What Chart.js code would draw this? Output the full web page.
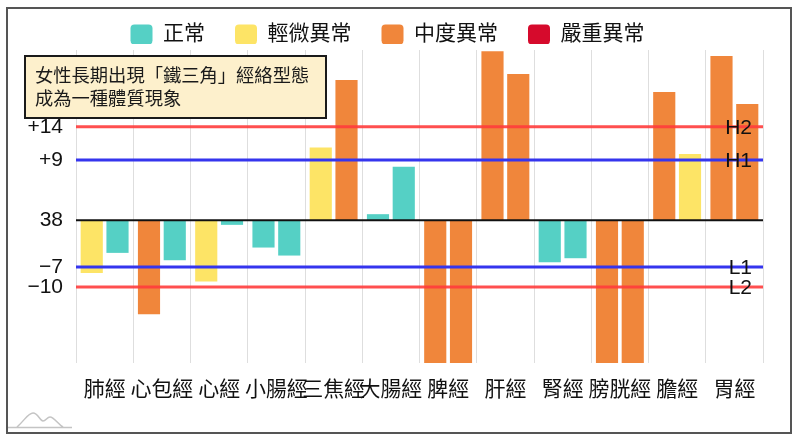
<!DOCTYPE html>
<html>
<head>
<meta charset="utf-8">
<script src="https://cdn.jsdelivr.net/npm/chart.js@4.4.1/dist/chart.umd.min.js"></script>
<style>
  html, body { margin: 0; padding: 0; background: #fff; }
  canvas { display: block; }
</style>
</head>
<body>
<canvas id="c" width="800" height="443"></canvas>
<script>
// ---- data ----
const categories = ['肺經','心包經','心經','小腸經','三焦經','大腸經','脾經','肝經','腎經','膀胱經','膽經','胃經'];
const leftValues  = [-7.9, -14.1, -9.2, -4.1, 10.9, 0.9, -23, 25.3, -6.3, -23, 19.2, 24.6];
const rightValues = [-4.9,  -6.0, -0.7, -5.3, 21.0, 8.0, -23, 21.9, -5.7, -23,  9.9, 17.4];
const leftLevels  = [1, 2, 1, 0, 1, 0, 2, 2, 0, 2, 2, 2];
const rightLevels = [0, 0, 0, 0, 2, 0, 2, 2, 0, 2, 1, 2];
const levelNames  = ['正常','輕微異常','中度異常','嚴重異常'];
const levelColors = ['#55d0c5','#fde466','#f0863b','#d60a2c'];
const yTickValues = [14, 9, 0, -7, -10];
const yTickLabels = ['+14','+9','38','\u22127','\u221210'];
const thresholdValues = [14, 9, -7, -10];
const thresholdNames  = ['H2','H1','L1','L2'];
const thresholdColors = ['rgba(255,60,60,0.9)','#3535ee','#3535ee','rgba(255,60,60,0.9)'];
const noteLines = ['女性長期出現「鐵三角」經絡型態','成為一種體質現象'];

const FONT = "'Liberation Sans', 'Noto Sans CJK TC', sans-serif";
Chart.defaults.font.family = FONT;
Chart.defaults.color = '#111';

const decor = {
  id: 'decor',
  beforeLayout(chart) {
    const lg = chart.legend;
    if (lg && !lg._patched) {
      const orig = lg.fit;
      lg.fit = function () { orig.call(this); this.height = 50; };
      lg._patched = true;
    }
  },
  afterLayout(chart) {
    const lg = chart.legend;
    if (lg) { lg.top -= 6; lg.bottom -= 6; lg.left += 6; lg.right += 6; }
  },
  beforeDraw(chart) {
    const ctx = chart.ctx;
    ctx.save();
    ctx.fillStyle = '#fff';
    ctx.fillRect(0, 0, chart.width, chart.height);
    ctx.strokeStyle = '#555';
    ctx.lineWidth = 2;
    ctx.strokeRect(7, 8, 784, 425);
    // watermark
    ctx.strokeStyle = '#c4c4c4';
    ctx.lineWidth = 1.5;
    ctx.beginPath();
    ctx.moveTo(8, 427.5); ctx.lineTo(72, 427.5);
    ctx.moveTo(17, 427);
    ctx.bezierCurveTo(25, 420, 28, 413, 33, 413);
    ctx.bezierCurveTo(38, 413, 40, 421, 43, 421);
    ctx.bezierCurveTo(46, 421, 47, 417, 50, 417);
    ctx.bezierCurveTo(54, 417, 58, 424, 63, 427);
    ctx.stroke();
    ctx.restore();
  },
  afterDatasetsDraw(chart) {
    const ctx = chart.ctx;
    const a = chart.chartArea;
    const y = chart.scales.y;
    ctx.save();
    // baseline
    ctx.strokeStyle = '#111';
    ctx.lineWidth = 2;
    const y0 = y.getPixelForValue(0);
    ctx.beginPath(); ctx.moveTo(a.left, y0); ctx.lineTo(a.right, y0); ctx.stroke();
    // thresholds
    ctx.font = '21px ' + FONT;
    ctx.textAlign = 'right';
    ctx.textBaseline = 'middle';
    thresholdValues.forEach((v, i) => {
      const py = y.getPixelForValue(v);
      ctx.strokeStyle = thresholdColors[i];
      ctx.lineWidth = 3;
      ctx.beginPath(); ctx.moveTo(a.left, py); ctx.lineTo(a.right, py); ctx.stroke();
      ctx.fillStyle = '#111';
      ctx.fillText(thresholdNames[i], a.right - 11, py + 1);
    });
    ctx.restore();
  },
  afterDraw(chart) {
    const ctx = chart.ctx;
    ctx.save();
    ctx.fillStyle = '#fdf0cc';
    ctx.fillRect(25, 56, 301, 62);
    ctx.strokeStyle = '#1a1a1a';
    ctx.lineWidth = 2;
    ctx.strokeRect(25, 56, 301, 62);
    ctx.fillStyle = '#1a1a1a';
    ctx.font = '18.3px ' + FONT;
    ctx.textAlign = 'left';
    ctx.textBaseline = 'middle';
    ctx.fillText(noteLines[0], 35, 77);
    ctx.fillText(noteLines[1], 35, 100);
    ctx.restore();
  }
};

new Chart(document.getElementById('c'), {
  type: 'bar',
  data: {
    labels: categories,
    datasets: [
      { label: 'left', data: leftValues, backgroundColor: leftLevels.map(l => levelColors[l]) },
      { label: 'right', data: rightValues, backgroundColor: rightLevels.map(l => levelColors[l]) }
    ]
  },
  options: {
    responsive: false,
    animation: false,
    devicePixelRatio: 1,
    layout: { padding: { left: 0, right: 37, top: 0, bottom: 0 } },
    datasets: { bar: { categoryPercentage: 0.9, barPercentage: 0.86, borderWidth: 0 } },
    plugins: {
      tooltip: { enabled: false },
      legend: {
        position: 'top',
        labels: {
          font: { size: 21 },
          color: '#111',
          boxWidth: 22,
          boxHeight: 20,
          padding: 30,
          useBorderRadius: true,
          borderRadius: 4,
          generateLabels: () => levelNames.map((n, i) => ({
            text: n, fillStyle: levelColors[i], strokeStyle: levelColors[i],
            lineWidth: 0, hidden: false, borderRadius: 4, fontColor: '#111'
          }))
        },
        onClick: () => {}
      }
    },
    scales: {
      x: {
        grid: { color: '#dedede', lineWidth: 1, drawTicks: false, offset: true },
        border: { display: false },
        ticks: { font: { size: 21 }, color: '#111', padding: 15, maxRotation: 0, minRotation: 0, autoSkip: false },
        afterFit: s => { s.height = 80; }
      },
      y: {
        min: -21.4,
        max: 25.5,
        grid: { display: false, drawTicks: false },
        border: { display: false },
        afterBuildTicks: s => { s.ticks = yTickValues.map(v => ({ value: v })); },
        ticks: {
          font: { size: 21 }, color: '#111', padding: 13, autoSkip: false,
          callback: v => { const i = yTickValues.indexOf(v); return i >= 0 ? yTickLabels[i] : ''; }
        },
        afterFit: s => { s.width = 76; }
      }
    }
  },
  plugins: [decor]
});
</script>
</body>
</html>
